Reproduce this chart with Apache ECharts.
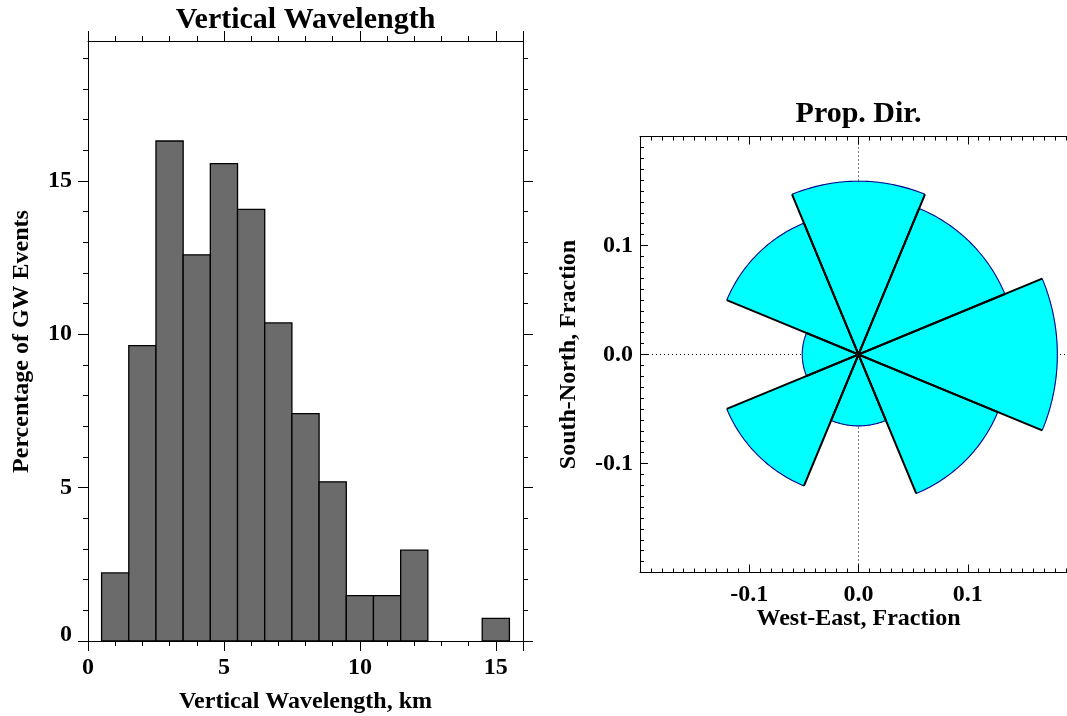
<!DOCTYPE html>
<html><head><meta charset="utf-8">
<script src="https://cdn.jsdelivr.net/npm/echarts@6/dist/echarts.min.js"></script>
<style>html,body{margin:0;padding:0;background:#fff}#c{width:1067px;height:716px}</style>
</head><body><div id="c"></div>
<script>
// ---- data ----
const histBinCenters = [1, 2, 3, 4, 5, 6, 7, 8, 9, 10, 11, 12, 13, 14, 15];
const histPercent = [2.22, 9.63, 16.30, 12.59, 15.56, 14.07, 10.37, 7.41, 5.19, 1.48, 1.48, 2.96, 0, 0, 0.74];
const histBinWidth = 1;
const histXMajorTicks = [0, 5, 10, 15];
const histYMajorTicks = [0, 5, 10, 15];
const histYMinorTicks = [1, 2, 3, 4, 6, 7, 8, 9, 11, 12, 13, 14, 16, 17, 18, 19];
const histYMax = 19.56;
const roseDirections = [0, 45, 90, 135, 180, 225, 270, 315];
const roseFractions = [0.159, 0.145, 0.182, 0.138, 0.0655, 0.1305, 0.0515, 0.1305];
const roseSectorWidth = 45;
const roseTickLabels = [-0.1, 0, 0.1];

const FONT = 'Liberation Serif';
const BLACK = '#000';
const lbl = (extra) => Object.assign({fontFamily: FONT, fontWeight: 'bold', fontSize: 24, color: BLACK}, extra);
const line = {lineStyle: {color: BLACK, width: 1}};

const chart = echarts.init(document.getElementById('c'), null, {renderer: 'canvas'});

function valAxis(o) {
  const base = {type: 'value', splitLine: {show: false},
    axisLine: Object.assign({show: true, onZero: false}, line)};
  const r = Object.assign(base, o);
  r.axisLine = Object.assign({onZero: false}, r.axisLine);
  return r;
}

const xAxes = [
  valAxis({gridIndex: 0, position: 'bottom', min: 0, max: 16, interval: 5,
    axisTick: Object.assign({length: 10, inside: false}, line),
    axisLabel: lbl({customValues: histXMajorTicks, margin: 15})}),
  valAxis({gridIndex: 0, position: 'bottom', min: 0, max: 16, interval: 1, axisLine: {show: false},
    axisTick: Object.assign({length: 5, inside: false}, line), axisLabel: {show: false}}),
  valAxis({gridIndex: 0, position: 'top', min: 0, max: 16, interval: 5,
    axisTick: Object.assign({length: 10, inside: false}, line), axisLabel: {show: false}}),
  valAxis({gridIndex: 0, position: 'top', min: 0, max: 16, interval: 1, axisLine: {show: false},
    axisTick: Object.assign({length: 5, inside: false}, line), axisLabel: {show: false}}),
  valAxis({gridIndex: 1, position: 'bottom', min: -0.2, max: 0.2, interval: 0.1,
    axisTick: Object.assign({length: 8, inside: true}, line),
    minorTick: Object.assign({show: true, splitNumber: 10, length: 4}, line),
    axisLabel: lbl({customValues: roseTickLabels, margin: 10, formatter: v => v.toFixed(1)})}),
  valAxis({gridIndex: 1, position: 'top', min: -0.2, max: 0.2, interval: 0.1,
    axisTick: Object.assign({length: 8, inside: true}, line),
    minorTick: Object.assign({show: true, splitNumber: 10, length: 4}, line),
    axisLabel: {show: false}})
];

const yAxes = [
  valAxis({gridIndex: 0, position: 'left', min: 0, max: histYMax, interval: 5,
    axisTick: Object.assign({length: 10, inside: false, customValues: histYMajorTicks}, line),
    axisLabel: lbl({customValues: histYMajorTicks, margin: 16,
      formatter: v => (v === 0 ? '{z|0}' : String(v)),
      rich: {z: {fontFamily: FONT, fontWeight: 'bold', fontSize: 24, color: BLACK, padding: [0, 0, 12, 0]}}})}),
  valAxis({gridIndex: 0, position: 'left', min: 0, max: histYMax, interval: 5, axisLine: {show: false},
    axisTick: Object.assign({length: 5, inside: false, customValues: histYMinorTicks}, line), axisLabel: {show: false}}),
  valAxis({gridIndex: 0, position: 'right', min: 0, max: histYMax, interval: 5,
    axisTick: Object.assign({length: 10, inside: false, customValues: histYMajorTicks}, line), axisLabel: {show: false}}),
  valAxis({gridIndex: 0, position: 'right', min: 0, max: histYMax, interval: 5, axisLine: {show: false},
    axisTick: Object.assign({length: 5, inside: false, customValues: histYMinorTicks}, line), axisLabel: {show: false}}),
  valAxis({gridIndex: 1, position: 'left', min: -0.2, max: 0.2, interval: 0.1,
    axisTick: Object.assign({length: 8, inside: true}, line),
    minorTick: Object.assign({show: true, splitNumber: 10, length: 4}, line),
    axisLabel: lbl({customValues: roseTickLabels, margin: 7, formatter: v => v.toFixed(1)})}),
  valAxis({gridIndex: 1, position: 'right', min: -0.2, max: 0.2, interval: 0.1,
    axisTick: Object.assign({length: 8, inside: true}, line),
    minorTick: Object.assign({show: true, splitNumber: 10, length: 4}, line),
    axisLabel: {show: false}})
];

function txt(text, x, y, size, rot) {
  return {type: 'text', x: x, y: y, rotation: rot || 0, z: 100,
    style: {text: text, font: 'bold ' + size + 'px "' + FONT + '"', fill: BLACK,
      align: 'center', verticalAlign: 'middle', textAlign: 'center', textVerticalAlign: 'middle'}};
}

const option = {
  animation: false,
  backgroundColor: '#fff',
  grid: [
    {left: 88, top: 41, width: 435, height: 600, outerBoundsMode: 'none', containLabel: false},
    {left: 640, top: 136.5, width: 437, height: 436, outerBoundsMode: 'none', containLabel: false}
  ],
  xAxis: xAxes,
  yAxis: yAxes,
  graphic: [
    txt('Vertical Wavelength', 305.5, 20, 30),
    txt('Prop. Dir.', 858.5, 114.5, 30),
    txt('Percentage of GW Events', 22, 341.5, 24, Math.PI / 2),
    txt('Vertical Wavelength, km', 305.5, 702, 24),
    txt('West-East, Fraction', 858.5, 619, 24),
    txt('South-North, Fraction', 569, 354.5, 24, Math.PI / 2)
  ],
  series: [
    {
      type: 'custom', xAxisIndex: 0, yAxisIndex: 0, z: 3,
      data: histBinCenters.map((c, i) => [c, histPercent[i]]),
      renderItem: function (params, api) {
        const c = api.value(0), v = api.value(1);
        if (!(v > 0)) return null;
        const p0 = api.coord([c - histBinWidth / 2, v]);
        const p1 = api.coord([c + histBinWidth / 2, 0]);
        return {type: 'rect', shape: {x: p0[0], y: p0[1], width: p1[0] - p0[0], height: p1[1] - p0[1]},
          style: {fill: '#6b6b6b', stroke: '#000', lineWidth: 1.3}};
      }
    },
    {
      type: 'custom', xAxisIndex: 4, yAxisIndex: 4, z: 3,
      data: roseDirections.map((d, i) => [d, roseFractions[i]]),
      renderItem: function (params, api) {
        const dir = api.value(0), r = api.value(1);
        const a0 = (dir - roseSectorWidth / 2) * Math.PI / 180;
        const a1 = (dir + roseSectorWidth / 2) * Math.PI / 180;
        const n = 48, arc = [];
        for (let k = 0; k <= n; k++) {
          const a = a0 + (a1 - a0) * k / n;
          arc.push(api.coord([r * Math.sin(a), r * Math.cos(a)]));
        }
        const c = api.coord([0, 0]);
        return {type: 'group', children: [
          {type: 'polygon', z2: 0, shape: {points: [c].concat(arc)}, style: {fill: '#00ffff', stroke: '#00ffff', lineWidth: 0.5}},
          {type: 'polyline', z2: 1, shape: {points: arc}, style: {stroke: '#00008b', lineWidth: 1.1, fill: null}},
          {type: 'polyline', z2: 2, shape: {points: [arc[0], c, arc[n]]}, style: {stroke: '#000', lineWidth: 2, fill: null}}
        ]};
      },
      markLine: {
        z: 1, silent: true, symbol: ['none', 'none'], label: {show: false},
        lineStyle: {color: '#000', width: 1, type: [1, 3]},
        data: [{xAxis: 0}, {yAxis: 0}]
      }
    }
  ]
};
chart.setOption(option);
</script>
</body></html>
